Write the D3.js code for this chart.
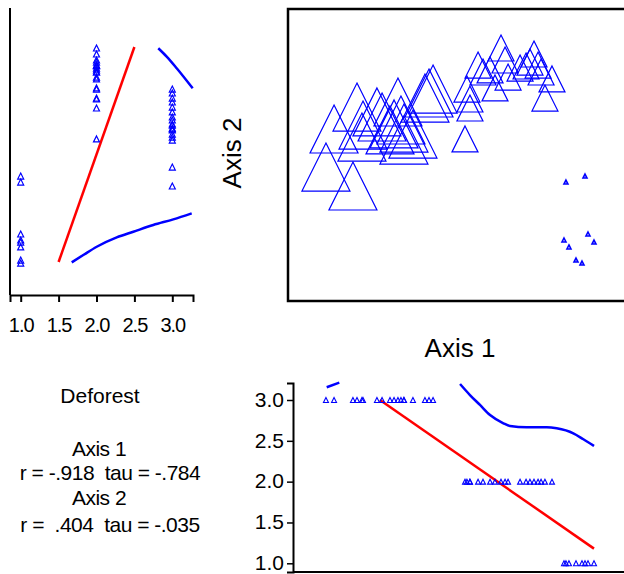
<!DOCTYPE html>
<html><head><meta charset="utf-8">
<script src="https://cdn.jsdelivr.net/npm/d3@7"></script>
<style>html,body{margin:0;padding:0;background:#fff;}svg{display:block;font-family:"Liberation Sans",Arial,sans-serif;}</style>
</head><body>
<svg id="c" width="624" height="574"></svg>
<script>
// ---- data ----
// ordination scores (Axis 1, Axis 2) and Deforest value per plot
const deforest3Ax1 = [-0.827,-0.773,-0.647,-0.620,-0.587,-0.580,-0.487,-0.453,-0.307,-0.400,-0.373,-0.347,-0.327,-0.307,-0.247,-0.167,-0.140,-0.113];
const deforest3Ax2 = [-0.142, 0.175,-0.300, 0.358, 0.108, 0.208, 0.317, 0.275, 0.083, 0.167, 0.217, 0.400, 0.250, 0.183, 0.133, 0.433, 0.475, 0.508];
const deforest2Ax1 = [0.100,0.133,0.133,0.113,0.187,0.220,0.267,0.300,0.340,0.367,0.387,0.467,0.507,0.533,0.560,0.587,0.607,0.633,0.680];
const deforest2Ax2 = [0.092,0.350,0.425,0.508,0.708,0.650,0.667,0.517,0.850,0.750,0.608,0.683,0.700,0.733,0.800,0.708,0.650,0.433,0.592];
const deforest1Ax1 = [0.773,0.900,0.760,0.793,0.920,0.960,0.840,0.880];
const deforest1Ax2 = [-0.267,-0.217,-0.750,-0.808,-0.700,-0.767,-0.917,-0.942];

// fitted lines: top-left panel (Deforest vs Axis 2)
const fitAx2Deforest = [1.5, 2.5];
const fitAx2Score    = [-0.933, 0.858];
const smoothLowDeforest = [1.673,1.826,2.003,2.267,2.486,2.749,3.013,3.256];
const smoothLowAx2      = [-0.936,-0.875,-0.806,-0.728,-0.681,-0.625,-0.578,-0.528];
const smoothHighDeforest = [2.815,2.926,3.058,3.269];
const smoothHighAx2      = [0.848,0.778,0.681,0.514];
// bottom panel (Axis 1 vs Deforest)
const fitAx1Score    = [-0.467, 0.960];
const fitAx1Deforest = [3.0, 1.18];
const smoothAAx1 = [-0.822,-0.738];
const smoothADef = [3.156,3.212];
const smoothBAx1 = [0.067,0.133,0.200,0.267,0.356,0.400,0.511,0.645,0.711,0.822,0.889,0.960];
const smoothBDef = [3.196,3.061,2.939,2.816,2.715,2.682,2.666,2.666,2.653,2.592,2.519,2.437];

const tickVals = [1.0,1.5,2.0,2.5,3.0];
const statTitle = "Deforest";
const statLines = ["Axis 1","r = -.918  tau = -.784","Axis 2","r =  .404  tau = -.035"];

// build points
const pts = [];
deforest3Ax1.forEach((v,i)=>pts.push({a1:v,a2:deforest3Ax2[i],d:3}));
deforest2Ax1.forEach((v,i)=>pts.push({a1:v,a2:deforest2Ax2[i],d:2}));
deforest1Ax1.forEach((v,i)=>pts.push({a1:v,a2:deforest1Ax2[i],d:1}));

const svg = d3.select("#c");
const BLUE = "#0000ff", RED = "#ff0000";

// scales
const x = d3.scaleLinear().domain([-1,1]).range([300,600]);
const y = d3.scaleLinear().domain([-1,1]).range([270,30]);
const tx0 = d3.scaleLinear().domain([1,3]).range([20.7,172.3]);
const tx = d3.scaleLinear().domain([tx0.invert(10), tx0.invert(193)]).range([10,193]);
const by0 = d3.scaleLinear().domain([1,3]).range([563.3,400]);
const by = d3.scaleLinear().domain([by0.invert(572), by0.invert(383)]).range([572,383]);

function tri(cx, cy, w){
  const h = w;
  return `M${cx},${cy-h/2}L${cx+w/2},${cy+h/2}L${cx-w/2},${cy+h/2}Z`;
}

// ---- main panel ----
svg.append("rect").attr("x",288).attr("y",9).attr("width",345).attr("height",292)
  .attr("fill","none").attr("stroke","#000").attr("stroke-width",2.5);
const sizeFor = d => 4 + 22*(d-1);
svg.append("g").selectAll("path").data(pts).join("path")
  .attr("d", p => tri(x(p.a1), y(p.a2), sizeFor(p.d)))
  .attr("fill","none").attr("stroke",BLUE).attr("stroke-width", p=> p.d===1?1.6:1.2);

svg.append("text").attr("x",460).attr("y",357).attr("text-anchor","middle")
  .attr("font-size",26).text("Axis 1");
svg.append("text").attr("transform","translate(241,153) rotate(-90)").attr("text-anchor","middle")
  .attr("font-size",26).text("Axis 2");

// ---- top-left panel ----
const tl = svg.append("g");
tl.append("line").attr("x1",10).attr("x2",10).attr("y1",8).attr("y2",295)
  .attr("stroke","#000").attr("stroke-width",2);
const ax = tl.append("g").attr("transform","translate(0,295)")
  .call(d3.axisBottom(tx).tickValues(tickVals).tickFormat(d3.format(".1f")).tickSizeOuter(0).tickSize(7).tickPadding(16));
ax.select(".domain").attr("stroke-width",2);
ax.selectAll(".tick line").attr("stroke-width",2);
ax.selectAll("text").attr("font-size",20).attr("font-family","Liberation Sans, Arial").attr("fill","#000").attr("letter-spacing","-1");

const line = d3.line();
tl.append("path").attr("d", line(fitAx2Deforest.map((d,i)=>[tx(d), y(fitAx2Score[i])])))
  .attr("stroke",RED).attr("stroke-width",2.5).attr("fill","none");
tl.append("path").attr("d", d3.line().curve(d3.curveMonotoneX)(smoothLowDeforest.map((d,i)=>[tx(d), y(smoothLowAx2[i])])))
  .attr("stroke",BLUE).attr("stroke-width",2.5).attr("fill","none");
tl.append("path").attr("d", d3.line().curve(d3.curveMonotoneX)(smoothHighDeforest.map((d,i)=>[tx(d), y(smoothHighAx2[i])])))
  .attr("stroke",BLUE).attr("stroke-width",2.5).attr("fill","none");
tl.append("g").selectAll("path").data(pts).join("path")
  .attr("d", p => tri(tx(p.d), y(p.a2), 6))
  .attr("fill","none").attr("stroke",BLUE).attr("stroke-width",1.2);

// ---- bottom panel ----
const bp = svg.append("g");
bp.append("line").attr("x1",293).attr("x2",624).attr("y1",572).attr("y2",572)
  .attr("stroke","#000").attr("stroke-width",2);
const ay = bp.append("g").attr("transform","translate(293,0)")
  .call(d3.axisLeft(by).tickValues(tickVals).tickFormat(d3.format(".1f")).tickSizeOuter(0).tickSize(6).tickPadding(3));
ay.select(".domain").attr("stroke-width",2);
ay.selectAll(".tick line").attr("stroke-width",1.5);
ay.selectAll("text").attr("font-size",21).attr("dy","0.3em").attr("font-family","Liberation Sans, Arial").attr("fill","#000");

bp.append("path").attr("d", line(fitAx1Score.map((d,i)=>[x(d), by(fitAx1Deforest[i])])))
  .attr("stroke",RED).attr("stroke-width",2.5).attr("fill","none");
bp.append("path").attr("d", line(smoothAAx1.map((d,i)=>[x(d), by(smoothADef[i])])))
  .attr("stroke",BLUE).attr("stroke-width",2.5).attr("fill","none");
bp.append("path").attr("d", d3.line().curve(d3.curveMonotoneX)(smoothBAx1.map((d,i)=>[x(d), by(smoothBDef[i])])))
  .attr("stroke",BLUE).attr("stroke-width",2.5).attr("fill","none");
bp.append("g").selectAll("path").data(pts).join("path")
  .attr("d", p => tri(x(p.a1), by(p.d), 5))
  .attr("fill","none").attr("stroke",BLUE).attr("stroke-width",1.1);

// ---- statistics text ----
const st = svg.append("g").attr("font-size",21).attr("fill","#000");
st.append("text").attr("x",100).attr("y",403).attr("text-anchor","middle").text(statTitle);
const statPos = [[99,456],[110,480],[99,505],[110,532]];
statLines.forEach((s,i)=>{
  st.append("text").attr("x",statPos[i][0]).attr("y",statPos[i][1]).attr("text-anchor","middle")
    .attr("letter-spacing","-0.5").style("white-space","pre").text(s);
});
</script>
</body></html>
